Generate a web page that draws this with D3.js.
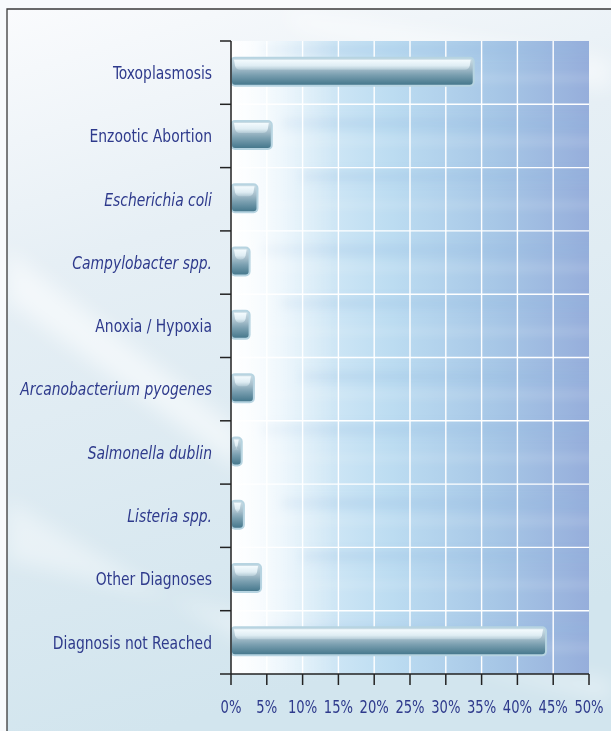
<!DOCTYPE html>
<html>
<head>
<meta charset="utf-8">
<script src="https://cdn.jsdelivr.net/npm/d3@7"></script>
<style>
  html, body { margin: 0; padding: 0; background: #f8fafc; }
  svg { display: block; }
  .lbl { font-family: "Liberation Sans Narrow", "DejaVu Sans Condensed", "Roboto", sans-serif; fill: #2e3a8c; }
</style>
</head>
<body>
<div id="chart"></div>
<script>
// data
const categories = ["Toxoplasmosis", "Enzootic Abortion", "Escherichia coli", "Campylobacter spp.",
  "Anoxia / Hypoxia", "Arcanobacterium pyogenes", "Salmonella dublin", "Listeria spp.",
  "Other Diagnoses", "Diagnosis not Reached"];
const percentages = [33.9, 5.7, 3.7, 2.6, 2.6, 3.2, 1.5, 1.8, 4.2, 44.0];
const italicCats = ["Escherichia coli", "Campylobacter spp.", "Arcanobacterium pyogenes",
  "Salmonella dublin", "Listeria spp."];
const xTicks = [0, 5, 10, 15, 20, 25, 30, 35, 40, 45, 50];

const W = 611, H = 731;
const plot = {left: 231, right: 589, top: 41, bottom: 674};
const squeeze = 0.86; // the original type is a condensed face

const svg = d3.select("#chart").append("svg")
    .attr("width", W)
    .attr("height", H);

const defs = svg.append("defs");

//frame background
const bgGrad = defs.append("linearGradient").attr("id", "bgGrad")
    .attr("x1", 0).attr("y1", 0).attr("x2", 0.25).attr("y2", 1);
bgGrad.append("stop").attr("offset", "0%").attr("stop-color", "#fafbfd");
bgGrad.append("stop").attr("offset", "35%").attr("stop-color", "#e6eff5");
bgGrad.append("stop").attr("offset", "100%").attr("stop-color", "#d2e5ee");

const plotGrad = defs.append("linearGradient").attr("id", "plotGrad")
    .attr("x1", 0).attr("y1", 0).attr("x2", 1).attr("y2", 0);
plotGrad.append("stop").attr("offset", "0%").attr("stop-color", "#f6fbfe");
plotGrad.append("stop").attr("offset", "18%").attr("stop-color", "#d8ecf8");
plotGrad.append("stop").attr("offset", "45%").attr("stop-color", "#bcdcf1");
plotGrad.append("stop").attr("offset", "75%").attr("stop-color", "#a6c6e6");
plotGrad.append("stop").attr("offset", "100%").attr("stop-color", "#96aedb");

const leftFade = defs.append("linearGradient").attr("id", "leftFade")
    .attr("x1", 0).attr("y1", 0).attr("x2", 1).attr("y2", 0);
leftFade.append("stop").attr("offset", "0%").attr("stop-color", "#ffffff").attr("stop-opacity", 0.9);
leftFade.append("stop").attr("offset", "100%").attr("stop-color", "#ffffff").attr("stop-opacity", 0);

const barGrad = defs.append("linearGradient").attr("id", "barGrad")
    .attr("x1", 0).attr("y1", 0).attr("x2", 0).attr("y2", 1);
barGrad.append("stop").attr("offset", "0%").attr("stop-color", "#cfe1e9");
barGrad.append("stop").attr("offset", "38%").attr("stop-color", "#a6becb");
barGrad.append("stop").attr("offset", "62%").attr("stop-color", "#7a9fb0");
barGrad.append("stop").attr("offset", "100%").attr("stop-color", "#417489");

const glossGrad = defs.append("linearGradient").attr("id", "glossGrad")
    .attr("x1", 0).attr("y1", 0).attr("x2", 0).attr("y2", 1);
glossGrad.append("stop").attr("offset", "0%").attr("stop-color", "#f4fbfe").attr("stop-opacity", 1);
glossGrad.append("stop").attr("offset", "60%").attr("stop-color", "#e4f1f7").attr("stop-opacity", 0.9);
glossGrad.append("stop").attr("offset", "100%").attr("stop-color", "#d0e3eb").attr("stop-opacity", 0.4);

defs.append("filter").attr("id", "blur").attr("x", "-20%").attr("y", "-100%")
    .attr("width", "140%").attr("height", "300%")
    .append("feGaussianBlur").attr("stdDeviation", 4);
defs.append("filter").attr("id", "blurBig").attr("x", "-20%").attr("y", "-50%")
    .attr("width", "140%").attr("height", "200%")
    .append("feGaussianBlur").attr("stdDeviation", 10);

svg.append("rect").attr("width", W).attr("height", H).attr("fill", "#f8fafc");
svg.append("rect").attr("x", 7).attr("y", 9).attr("width", W - 7).attr("height", H - 9)
    .attr("fill", "url(#bgGrad)");

//diagonal light streaks
const streaks = svg.append("g").attr("filter", "url(#blurBig)").attr("fill", "#ffffff");
streaks.append("path").attr("d", "M7,250 L240,430 L240,470 L7,300 Z").attr("opacity", 0.55);
streaks.append("path").attr("d", "M7,500 L240,640 L611,680 L611,700 L7,560 Z").attr("opacity", 0.4);
streaks.append("path").attr("d", "M280,10 L611,60 L611,90 L300,30 Z").attr("opacity", 0.5);

//frame lines
svg.append("path").attr("d", `M7,${H} L7,9 L${W},9`)
    .attr("fill", "none").attr("stroke", "#3a3a3a").attr("stroke-width", 1.3);

const x = d3.scaleLinear().domain([0, 50]).range([plot.left, plot.right]);
const y = d3.scaleBand().domain(categories).range([plot.top, plot.bottom]).padding(0);

//plot background
svg.append("rect")
    .attr("x", plot.left).attr("y", plot.top)
    .attr("width", plot.right - plot.left).attr("height", plot.bottom - plot.top)
    .attr("fill", "url(#plotGrad)");

//soft horizontal bands
const clip = defs.append("clipPath").attr("id", "plotClip");
clip.append("rect").attr("x", plot.left).attr("y", plot.top)
    .attr("width", plot.right - plot.left).attr("height", plot.bottom - plot.top);
const bands = svg.append("g").attr("clip-path", "url(#plotClip)");
const bandG = bands.append("g").attr("filter", "url(#blur)");
categories.forEach((c, i) => {
    const y0 = y(c);
    bandG.append("rect")
        .attr("x", plot.left + 20).attr("y", y0 + y.bandwidth() * 0.55)
        .attr("width", plot.right - plot.left).attr("height", 5)
        .attr("fill", "#ffffff").attr("opacity", 0.2);
    bandG.append("rect")
        .attr("x", plot.left + 30 + (i % 3) * 20).attr("y", y0 + 4 + (i % 2) * 10)
        .attr("width", plot.right - plot.left).attr("height", 10)
        .attr("fill", "#8fb8de").attr("opacity", 0.22);
});
bands.append("rect")
    .attr("x", plot.left).attr("y", plot.top)
    .attr("width", 110).attr("height", plot.bottom - plot.top)
    .attr("fill", "url(#leftFade)");

//grid
const grid = svg.append("g");
grid.selectAll("line.v")
    .data(xTicks.slice(1, -1))
    .join("line")
    .attr("x1", d => x(d)).attr("x2", d => x(d))
    .attr("y1", plot.top).attr("y2", plot.bottom)
    .attr("stroke", "#ffffff").attr("stroke-width", 1.4);
grid.selectAll("line.h")
    .data(categories.slice(1))
    .join("line")
    .attr("x1", plot.left).attr("x2", plot.right)
    .attr("y1", d => y(d)).attr("y2", d => y(d))
    .attr("stroke", "#ffffff").attr("stroke-width", 1.4);

//bars
const barH = 28;
const bars = svg.append("g")
    .selectAll("g")
    .data(categories.map((c, i) => ({cat: c, v: percentages[i]})))
    .join("g")
    .attr("transform", d => `translate(${plot.left},${y(d.cat) + y.bandwidth() / 2 - barH / 2 - 1})`);

bars.append("rect")
    .attr("x", 0).attr("y", 0)
    .attr("width", d => x(d.v) - plot.left).attr("height", barH)
    .attr("rx", 4)
    .attr("fill", "url(#barGrad)")
    .attr("stroke", "#b7d4e1").attr("stroke-width", 2);

bars.append("path")
    .attr("d", d => {
        const w = x(d.v) - plot.left;
        const x0 = 3, x1 = w - 3, t = 2, b = 12;
        return `M${x0},${t} L${x1},${t} L${x1 - 1},${b - 4} Q${x1 - 2},${b} ${x1 - 6},${b} L${x0 + 6},${b} Q${x0 + 2},${b} ${x0 + 1},${b - 4} Z`;
    })
    .attr("fill", "url(#glossGrad)");

//axes
const axisCol = "#222";
svg.append("line")
    .attr("x1", plot.left).attr("x2", plot.left)
    .attr("y1", plot.top).attr("y2", plot.bottom)
    .attr("stroke", axisCol).attr("stroke-width", 1.5);
svg.append("line")
    .attr("x1", plot.left - 11).attr("x2", plot.right)
    .attr("y1", plot.bottom).attr("y2", plot.bottom)
    .attr("stroke", axisCol).attr("stroke-width", 1.5);

svg.append("g").selectAll("line")
    .data(categories)
    .join("line")
    .attr("x1", plot.left - 11).attr("x2", plot.left)
    .attr("y1", d => y(d)).attr("y2", d => y(d))
    .attr("stroke", axisCol).attr("stroke-width", 1.5);

svg.append("g").selectAll("line")
    .data(xTicks)
    .join("line")
    .attr("x1", d => x(d)).attr("x2", d => x(d))
    .attr("y1", plot.bottom).attr("y2", plot.bottom + 11)
    .attr("stroke", axisCol).attr("stroke-width", 1.5);

svg.append("g").selectAll("text")
    .data(xTicks)
    .join("text")
    .attr("class", "lbl")
    .attr("transform", d => `translate(${x(d)},713) scale(${squeeze},1)`)
    .attr("text-anchor", "middle")
    .attr("font-size", 17)
    .text(d => d + "%");

svg.append("g").selectAll("text")
    .data(categories)
    .join("text")
    .attr("class", "lbl")
    .attr("transform", d => `translate(212,${y(d) + y.bandwidth() / 2}) scale(${squeeze},1)`)
    .attr("dy", "0.35em")
    .attr("text-anchor", "end")
    .attr("font-size", 18)
    .attr("font-style", d => italicCats.includes(d) ? "italic" : "normal")
    .text(d => d);
</script>
</body>
</html>
